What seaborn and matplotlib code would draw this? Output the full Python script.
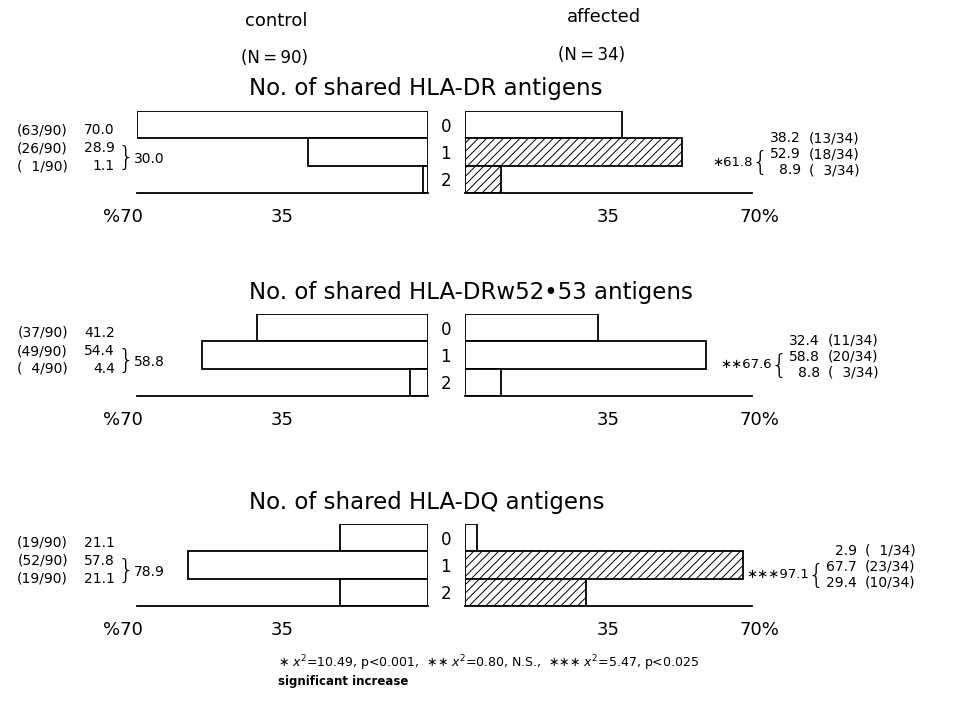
import matplotlib
matplotlib.use("Agg")
import matplotlib.pyplot as plt
import matplotlib.transforms as mtransforms
import seaborn as sns

# ------------------------------------------------------------
# Data (percent of pairs sharing 0 / 1 / 2 antigens)
# ------------------------------------------------------------
categories = ["0", "1", "2"]

dr_control = [70.0, 28.9, 1.1]
dr_control_n = [63, 26, 1]
dr_affected = [38.2, 52.9, 8.9]
dr_affected_n = [13, 18, 3]

drw_control = [41.2, 54.4, 4.4]
drw_control_n = [37, 49, 4]
drw_affected = [32.4, 58.8, 8.8]
drw_affected_n = [11, 20, 3]

dq_control = [21.1, 57.8, 21.1]
dq_control_n = [19, 52, 19]
dq_affected = [2.9, 67.7, 29.4]
dq_affected_n = [1, 23, 10]

control_sum = ["30.0", "58.8", "78.9"]
affected_sum = ["\u221761.8", "\u2217\u221767.6", "\u2217\u2217\u221797.1"]
hatched = [[1, 2], [], [1, 2]]

titles = ["No. of shared HLA-DR antigens",
          "No. of shared HLA-DRw52\u202253 antigens",
          "No. of shared HLA-DQ antigens"]

N_CONTROL = 90
N_AFFECTED = 34

# ------------------------------------------------------------
# Layout (pixels in a 954 x 706 canvas)
# ------------------------------------------------------------
W, H = 954, 706
panel_top = [111, 314, 524]
panel_h = 82
sum_right = [753, 772, 809]


def fx(x):
    return x / W


def fy(y):
    return 1 - y / H


sns.set_style("white")
plt.rcParams["font.family"] = ["DejaVu Sans"]
plt.rcParams["hatch.linewidth"] = 0.7
plt.rcParams["text.color"] = "black"
plt.rcParams["xtick.color"] = "black"
plt.rcParams["ytick.color"] = "black"
plt.rcParams["axes.edgecolor"] = "black"

fig = plt.figure(figsize=(W / 100, H / 100), dpi=100)

panels = [
    (dr_control, dr_control_n, dr_affected, dr_affected_n),
    (drw_control, drw_control_n, drw_affected, drw_affected_n),
    (dq_control, dq_control_n, dq_affected, dq_affected_n),
]

fs = 10
for i, (c_vals, c_n, a_vals, a_n) in enumerate(panels):
    top = panel_top[i]
    bottom = fy(top + panel_h)
    h = panel_h / H

    # --- control (left, mirrored) ---
    axl = fig.add_axes([fx(137), bottom, fx(428) - fx(137), h])
    sns.barplot(x=c_vals, y=categories, orient="h", ax=axl, color="white",
                edgecolor="black", linewidth=1.3, width=1.0, saturation=1)
    axl.set_xlim(70, 0)
    axl.set_ylim(2.5, -0.5)
    axl.set_yticks([])
    axl.set_ylabel("")
    axl.set_xticks([70, 35])
    axl.set_xticklabels(["%70", "35"])
    sns.despine(ax=axl, left=True)
    axl.spines["bottom"].set_linewidth(1.3)
    axl.tick_params(axis="x", direction="out", length=7, width=1.3,
                    labelsize=13, pad=4)
    lab = axl.get_xticklabels()[0]
    lab.set_transform(lab.get_transform() + mtransforms.ScaledTranslation(
        -10 / 72, 0, fig.dpi_scale_trans))

    # --- affected (right) ---
    axr = fig.add_axes([fx(465), bottom, fx(752) - fx(465), h])
    sns.barplot(x=a_vals, y=categories, orient="h", ax=axr, color="white",
                edgecolor="black", linewidth=1.3, width=1.0, saturation=1)
    for j in hatched[i]:
        axr.patches[j].set_hatch("////")
    axr.set_xlim(0, 70)
    axr.set_ylim(2.5, -0.5)
    axr.set_ylabel("")
    axr.set_xticks([35, 70])
    axr.set_xticklabels(["35", "70%"])
    sns.despine(ax=axr, left=True)
    axr.spines["bottom"].set_linewidth(1.3)
    axr.tick_params(axis="x", direction="out", length=7, width=1.3,
                    labelsize=13, pad=4)
    axr.tick_params(axis="y", length=0, labelsize=12, pad=10)
    lab = axr.get_xticklabels()[1]
    lab.set_transform(lab.get_transform() + mtransforms.ScaledTranslation(
        5 / 72, 0, fig.dpi_scale_trans))

    # panel title
    fig.text(fx(249), fy(top - 22), titles[i], fontsize=16.5,
             ha="left", va="center")

    # left annotations
    rows = [top + 19, top + 37, top + 55]
    for y, v, n in zip(rows, c_vals, c_n):
        fig.text(fx(68), fy(y), f"({n:>2}/{N_CONTROL})".replace(" ", "\u2007"),
                 ha="right", va="center", fontsize=fs)
        fig.text(fx(115), fy(y), f"{v:.1f}", ha="right", va="center", fontsize=fs)
    mid = (rows[1] + rows[2]) / 2
    fig.text(fx(126), fy(mid), "}", ha="center", va="center", fontsize=19,
             fontweight="light")
    fig.text(fx(134), fy(mid + 2), control_sum[i], ha="left", va="center",
             fontsize=fs)

    # right annotations
    xs = sum_right[i]
    rows = [top + 27, top + 43, top + 59]
    for y, v, n in zip(rows, a_vals, a_n):
        fig.text(fx(xs + 48), fy(y), f"{v:.1f}", ha="right", va="center",
                 fontsize=fs)
        fig.text(fx(xs + 56), fy(y), f"({n:>2}/{N_AFFECTED})".replace(" ", "\u2007"),
                 ha="left", va="center", fontsize=fs)
    mid = (rows[1] + rows[2]) / 2
    fig.text(fx(xs + 7), fy(mid), "{", ha="center", va="center", fontsize=19,
             fontweight="light")
    fig.text(fx(xs), fy(mid), affected_sum[i], ha="right", va="center",
             fontsize=9.5)

# group headers
fig.text(fx(276), fy(21), "control", ha="center", va="center", fontsize=13)
fig.text(fx(275), fy(58), "(N\u2009=\u200990)", ha="center", va="center", fontsize=12)
fig.text(fx(604), fy(17), "affected", ha="center", va="center", fontsize=13)
fig.text(fx(592), fy(55), "(N\u2009=\u200934)", ha="center", va="center", fontsize=12)

# footnote
fig.text(fx(278), fy(663),
         "\u2217 $\\mathit{x}^{2}$=10.49, p<0.001,  \u2217\u2217 $\\mathit{x}^{2}$=0.80, N.S.,"
         "  \u2217\u2217\u2217 $\\mathit{x}^{2}$=5.47, p<0.025",
         ha="left", va="center", fontsize=9)
fig.text(fx(278), fy(682), "significant increase", ha="left", va="center",
         fontsize=8.5, fontweight="bold")

fig.savefig("out.png", dpi=100)
